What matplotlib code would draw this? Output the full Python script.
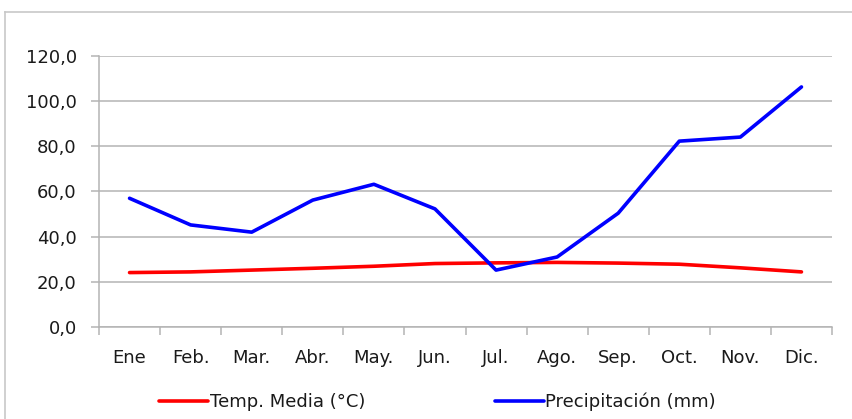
import matplotlib
matplotlib.use("Agg")
import matplotlib.pyplot as plt
from matplotlib.lines import Line2D

months = ["Ene", "Feb.", "Mar.", "Abr.", "May.", "Jun.", "Jul.", "Ago.", "Sep.", "Oct.", "Nov.", "Dic."]
temp_media = [24.1, 24.4, 25.2, 26.0, 26.9, 28.1, 28.4, 28.6, 28.3, 27.8, 26.2, 24.4]
precipitacion = [57.0, 45.2, 42.0, 56.2, 63.2, 52.3, 25.2, 31.0, 50.4, 82.3, 84.1, 106.3]
yticks = [0, 20, 40, 60, 80, 100, 120]
ytick_labels = ["0,0", "20,0", "40,0", "60,0", "80,0", "100,0", "120,0"]

plt.rcParams['font.family'] = ['DejaVu Sans']
W, H = 852, 419
fig = plt.figure(figsize=(W / 100, H / 100), dpi=100)
ax = fig.add_axes([99 / W, 1 - 327 / H, (832 - 99) / W, (327 - 56) / H])

x = list(range(len(months)))
grid_c = "#b4b4b4"
text_c = "#1a1a1a"

l1, = ax.plot(x, temp_media, color="#ff0000", lw=2.6, solid_capstyle="round", label="Temp. Media (°C)")
l2, = ax.plot(x, precipitacion, color="#0000ff", lw=2.6, solid_capstyle="round", label="Precipitación (mm)")

ax.set_xlim(-0.5, len(months) - 0.5)
ax.set_ylim(0, 120)
ax.set_yticks(yticks)
ax.set_yticklabels(ytick_labels)
ax.set_xticks(x)
ax.set_xticklabels(months)
ax.set_xticks([i - 0.5 for i in range(len(months) + 1)], minor=True)
ax.tick_params(axis="x", which="major", length=0, pad=16, labelsize=13, labelcolor=text_c)
ax.tick_params(axis="x", which="minor", length=6, width=1.1, color=grid_c)
ax.tick_params(axis="y", length=6, width=1.1, color=grid_c, pad=10, labelsize=13, labelcolor=text_c)
ax.grid(axis="y", color=grid_c, lw=1.1)
ax.set_axisbelow(True)
for s in ["top", "right"]:
    ax.spines[s].set_visible(False)
for s in ["left", "bottom"]:
    ax.spines[s].set_color(grid_c)
    ax.spines[s].set_linewidth(1.1)

fig.legend(handles=[l1, l2], loc="center", bbox_to_anchor=(437.5 / W, 1 - 402 / H), ncol=2,
           frameon=False, fontsize=13, handlelength=2.7, handletextpad=0.1, columnspacing=7.2,
           labelcolor=text_c)

# chart border
bc = "#c8c8c8"
fig.add_artist(Line2D([5 / W, 1.0], [1 - 12 / H, 1 - 12 / H], transform=fig.transFigure, color=bc, lw=1.2))
fig.add_artist(Line2D([5 / W, 5 / W], [1 - 12 / H, 0], transform=fig.transFigure, color=bc, lw=1.2))

# title, mostly above the visible area (only descenders show, as in the reference)
fig.text(107 / W, 1.0 + 4 / H, "Temperatura y Precipitación", fontsize=13, fontweight="bold",
         ha="left", va="baseline", color="#111111")

fig.savefig("out.png", dpi=100)
